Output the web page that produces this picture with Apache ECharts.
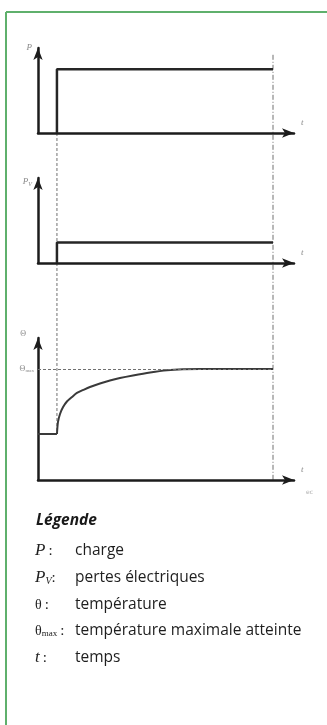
<!DOCTYPE html>
<html>
<head>
<meta charset="utf-8">
<script src="https://cdn.jsdelivr.net/npm/echarts@6/dist/echarts.min.js"></script>
<style>
  html, body { margin: 0; padding: 0; background: #fff; }
  #c { width: 327px; height: 725px; }
</style>
</head>
<body>
<div id="c"></div>
<script>
// Switching times (time axis runs 0..100)
const tOn = 7.4;
const tOff = 91.8;

// Load P and electrical losses PV (relative units, axis 0..1)
const loadTime = [tOn, tOn, tOff];
const loadValue = [0, 0.75, 0.75];
const lossTime = [tOn, tOn, tOff];
const lossValue = [0, 0.24, 0.24];

// Temperature θ (relative units, axis 0..100)
const thetaFlatTime = [0, 7.4];
const thetaFlatValue = [32.4, 32.4];
const thetaTime = [7.4, 7.8, 8.6, 9.8, 11.3, 13.3, 15.2, 18.0, 20.3, 24.2, 28.1, 32.0, 37.1, 43.8, 50.4, 56.6, 63.3, 91.8];
const thetaValue = [32.4, 40.8, 46.5, 51.4, 55.3, 58.5, 61.3, 63.7, 65.5, 68.0, 70.1, 71.8, 73.6, 75.7, 77.3, 78.0, 78.2, 78.2];
const thetaMax = 78.2;

// Legend rows
const legendTitle = 'Légende';
const legendSymbols = ['{s|P}{c|\u2009:}', '{s|P}{sub|V}{c|:}', '{g|θ}{c|\u2009:}', '{g|θ}{subm|max}{c|\u2009:}', '{s|t}{c|\u2009:}'];
const legendTexts = ['charge', 'pertes électriques', 'température', 'température maximale atteinte', 'temps'];

const INK = '#262626';
const LABEL = '#8a8a8a';
const DASH = '#707070';

function axisLine() {
  return {
    show: true,
    symbol: ['none', 'arrow'],
    symbolSize: [7, 12],
    lineStyle: { color: '#1c1c1c', width: 2.5 }
  };
}
const nameStyleX = { fontFamily: 'Liberation Serif', fontStyle: 'italic', fontSize: 9, color: LABEL, verticalAlign: 'bottom', align: 'left', padding: [0, 0, 6, 7] };
const nameStyleY = { fontFamily: 'Liberation Serif', fontStyle: 'italic', fontSize: 9, color: LABEL, align: 'right', verticalAlign: 'middle', padding: [0, 6, 0, 0] };

function xAxisFor(g) {
  return {
    type: 'value', gridIndex: g, min: 0, max: 100,
    axisLine: axisLine(), axisTick: { show: false }, axisLabel: { show: false }, splitLine: { show: false },
    name: 't', nameLocation: 'end', nameGap: 0, nameTextStyle: nameStyleX
  };
}
function yAxisFor(g, max, name, gap, extra) {
  return {
    type: 'value', gridIndex: g, min: 0, max: max,
    axisLine: axisLine(), axisTick: { show: false }, axisLabel: { show: false }, splitLine: { show: false },
    name: name, nameLocation: 'end', nameGap: gap,
    nameTextStyle: Object.assign({}, nameStyleY, extra || {})
  };
}

const pairs = (xs, ys) => xs.map((x, i) => [x, ys[i]]);

const legendGraphics = [{
  type: 'text', left: 36, top: 513, z: 10,
  style: { text: legendTitle, font: 'italic bold 15.5px "Open Sans"', fill: '#1a1a1a' }
}];
const rowY = [551, 578, 605, 631, 658];
legendSymbols.forEach((sym, i) => {
  legendGraphics.push({
    type: 'text', x: 35, y: rowY[i], z: 10,
    style: {
      text: sym, verticalAlign: 'middle', fill: '#222',
      rich: {
        s: { fontFamily: 'Liberation Serif', fontStyle: 'italic', fontSize: 17, fill: '#222' },
        g: { fontFamily: 'Liberation Serif', fontSize: 14, fill: '#222' },
        sub: { fontFamily: 'Liberation Serif', fontStyle: 'italic', fontSize: 10, fill: '#222', verticalAlign: 'bottom', padding: [7, 0, 0, 0] },
        subm: { fontFamily: 'Liberation Serif', fontSize: 9, fill: '#222', verticalAlign: 'bottom', padding: [6, 0, 0, 0] },
        c: { fontFamily: 'Liberation Serif', fontSize: 15, fill: '#222' }
      }
    }
  });
  legendGraphics.push({
    type: 'text', x: 75, y: rowY[i], z: 10,
    style: { text: legendTexts[i], verticalAlign: 'middle', font: '15.5px "Open Sans"', fill: '#1e1e1e' }
  });
});

const frame = [
  { type: 'line', shape: { x1: 6, y1: 12, x2: 327, y2: 12 }, style: { stroke: '#5fb06c', lineWidth: 2 }, z: 10 },
  { type: 'line', shape: { x1: 6, y1: 12, x2: 6, y2: 725 }, style: { stroke: '#5fb06c', lineWidth: 2 }, z: 10 },
  { type: 'text', x: 306, y: 489, z: 10, style: { text: 'ec', font: '6px "DejaVu Sans"', fill: '#b0b0b0' } }
];

const option = {
  animation: false,
  backgroundColor: '#fff',
  grid: [
    { left: 38, top: 48, width: 256, height: 85 },
    { left: 38, top: 178, width: 256, height: 85 },
    { left: 38, top: 338, width: 256, height: 142 }
  ],
  xAxis: [xAxisFor(0), xAxisFor(1), xAxisFor(2)],
  yAxis: [
    yAxisFor(0, 1, 'P', 0),
    yAxisFor(1, 1, '{p|P}{v|V}', -4, {
      rich: {
        p: { fontFamily: 'Liberation Serif', fontStyle: 'italic', fontSize: 9, color: LABEL },
        v: { fontFamily: 'Liberation Serif', fontStyle: 'italic', fontSize: 6, color: LABEL, verticalAlign: 'bottom', padding: [4, 0, 0, 0] }
      }
    }),
    yAxisFor(2, 100, 'Θ', 4, { fontStyle: 'normal', fontSize: 8, padding: [0, 12, 0, 0] })
  ],
  graphic: frame.concat(legendGraphics),
  series: [
    {
      name: 'P', type: 'line', xAxisIndex: 0, yAxisIndex: 0, data: pairs(loadTime, loadValue),
      symbol: 'none', lineStyle: { color: INK, width: 2.5 }
    },
    {
      name: 'PV', type: 'line', xAxisIndex: 1, yAxisIndex: 1, data: pairs(lossTime, lossValue),
      symbol: 'none', lineStyle: { color: INK, width: 2.5 }
    },
    {
      name: 'θ0', type: 'line', xAxisIndex: 2, yAxisIndex: 2, data: pairs(thetaFlatTime, thetaFlatValue),
      symbol: 'none', lineStyle: { color: '#3a3a3a', width: 2 }
    },
    {
      name: 'θ', type: 'line', xAxisIndex: 2, yAxisIndex: 2, data: pairs(thetaTime, thetaValue),
      symbol: 'none', smooth: 0.25, lineStyle: { color: '#3a3a3a', width: 2 },
      markLine: {
        silent: true, symbol: 'none',
        lineStyle: { color: DASH, type: [3, 2], width: 1 },
        label: {
          position: 'start', distance: 4,
          formatter: '{a|Θ}{b|max}',
          rich: {
            a: { fontFamily: 'Liberation Serif', fontSize: 8, color: LABEL },
            b: { fontFamily: 'Liberation Serif', fontSize: 5, color: LABEL, verticalAlign: 'bottom', padding: [4, 0, 0, 0] }
          }
        },
        data: [[{ coord: [0, thetaMax] }, { coord: [tOff, thetaMax] }]]
      }
    }
  ]
};

const chart = echarts.init(document.getElementById('c'));
chart.setOption(option);

// Dashed guides at switch-on and switch-off, spanning the three panels
const toPx = (g, x, y) => chart.convertToPixel({ gridIndex: g }, [x, y]);
const onTop = toPx(0, tOn, 0);
const onBottom = toPx(2, tOn, thetaFlatValue[1]);
const offTop = toPx(0, tOff, 0.92);
const offBottom = toPx(2, tOff, 0);
const guide = (a, b, dash) => ({
  type: 'line', z: -1,
  shape: { x1: a[0], y1: a[1], x2: b[0], y2: b[1] },
  style: { stroke: DASH, lineWidth: 1, lineDash: dash }
});
chart.setOption({
  graphic: frame.concat(legendGraphics, [
    guide(onTop, onBottom, [3, 2]),
    guide(offTop, offBottom, [5, 2, 1, 2])
  ])
});
</script>
</body>
</html>
